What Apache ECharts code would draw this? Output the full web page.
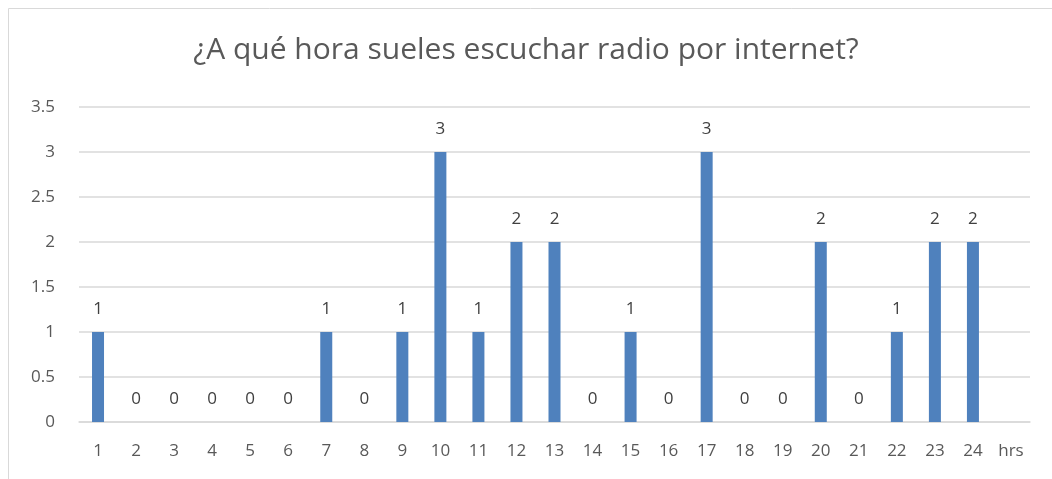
<!DOCTYPE html>
<html>
<head>
<meta charset="utf-8">
<script src="https://cdn.jsdelivr.net/npm/echarts@6/dist/echarts.min.js"></script>
<style>
  html, body { margin: 0; padding: 0; background: #fff; }
</style>
</head>
<body>
<div id="chart" style="width: 1052px; height: 479px;"></div>
<script>
  const horas = ['1', '2', '3', '4', '5', '6', '7', '8', '9', '10', '11', '12',
    '13', '14', '15', '16', '17', '18', '19', '20', '21', '22', '23', '24', 'hrs'];
  const respuestas = [1, 0, 0, 0, 0, 0, 1, 0, 1, 3, 1, 2,
    2, 0, 1, 0, 3, 0, 0, 2, 0, 1, 2, 2, null];

  const myChart = echarts.init(document.getElementById('chart'));

  const option = {
    animation: false,
    textStyle: { fontFamily: 'Open Sans' },
    graphic: [
      {
        type: 'rect',
        shape: { x: 8.5, y: 8.5, width: 1100, height: 500 },
        style: { fill: 'none', stroke: '#d9d9d9', lineWidth: 1 }
      }
    ],
    title: {
      text: '¿A qué hora sueles escuchar radio por internet?',
      left: 'center',
      top: 30,
      textStyle: {
        color: '#595959',
        fontSize: 30,
        fontWeight: 'normal',
        fontFamily: 'Open Sans'
      }
    },
    grid: {
      left: 79,
      right: 22,
      top: 107,
      bottom: 57
    },
    xAxis: {
      type: 'category',
      data: horas,
      axisLine: { lineStyle: { color: '#d9d9d9', width: 1.5 } },
      axisTick: { show: false },
      axisLabel: {
        color: '#595959',
        fontSize: 17,
        margin: 21,
        interval: 0
      }
    },
    yAxis: {
      type: 'value',
      min: 0,
      max: 3.5,
      interval: 0.5,
      axisLine: { show: false },
      axisTick: { show: false },
      axisLabel: {
        color: '#595959',
        fontSize: 17,
        margin: 24
      },
      splitLine: { lineStyle: { color: '#d9d9d9', width: 1.5 } }
    },
    series: [
      {
        type: 'bar',
        data: respuestas,
        barWidth: 12,
        itemStyle: { color: '#4f81bd' },
        label: {
          show: true,
          position: 'top',
          distance: 14,
          color: '#404040',
          fontSize: 17
        }
      }
    ]
  };

  myChart.setOption(option);
</script>
</body>
</html>
